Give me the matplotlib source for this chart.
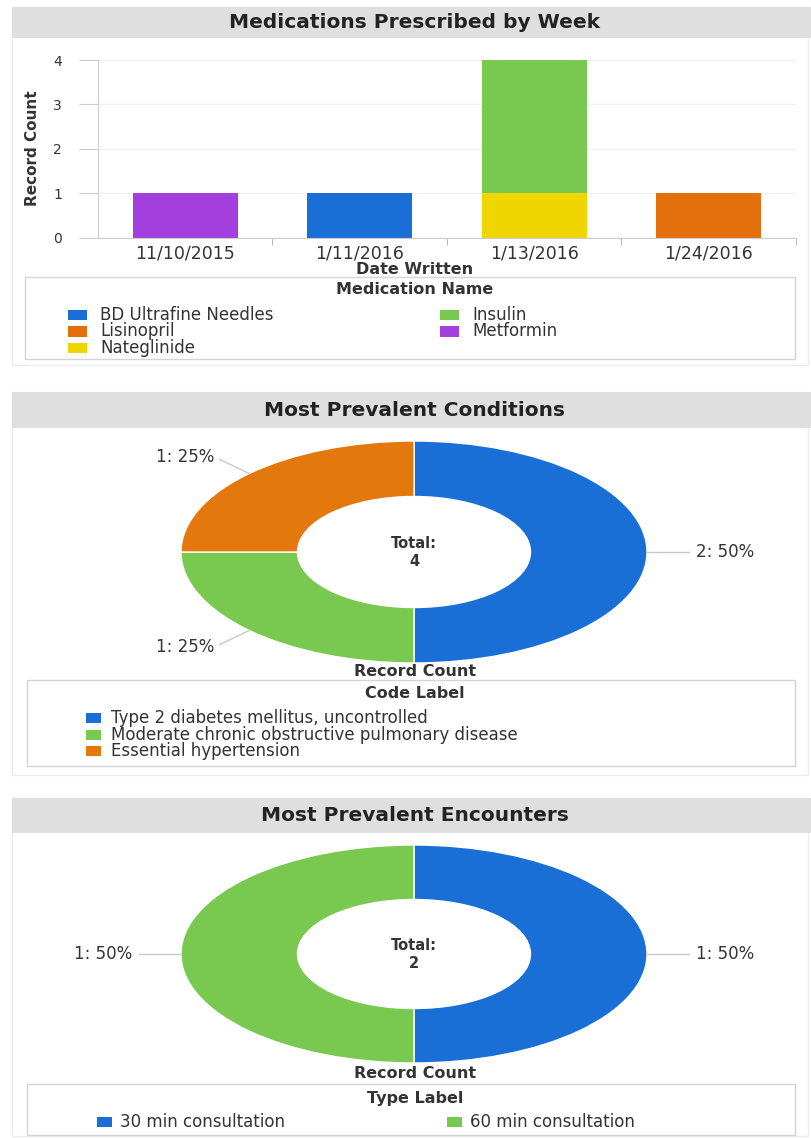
import matplotlib
matplotlib.use("Agg")
import matplotlib.pyplot as plt
from matplotlib.patches import Rectangle
import numpy as np

plt.rcParams['font.family'] = ['DejaVu Sans']

# ---- data ----
dates = ['11/10/2015', '1/11/2016', '1/13/2016', '1/24/2016']
med_names = ['BD Ultrafine Needles', 'Insulin', 'Lisinopril', 'Metformin', 'Nateglinide']
med_counts = {
    'Metformin':            [1, 0, 0, 0],
    'BD Ultrafine Needles': [0, 1, 0, 0],
    'Nateglinide':          [0, 0, 1, 0],
    'Insulin':              [0, 0, 3, 0],
    'Lisinopril':           [0, 0, 0, 1],
}
med_colors = {
    'BD Ultrafine Needles': '#1a6fd6',
    'Insulin': '#79c84f',
    'Lisinopril': '#e3700d',
    'Metformin': '#a33fdc',
    'Nateglinide': '#f0d600',
}

cond_labels = ['Type 2 diabetes mellitus, uncontrolled',
               'Moderate chronic obstructive pulmonary disease',
               'Essential hypertension']
cond_counts = [2, 1, 1]
cond_colors = ['#1a6fd6', '#79c84f', '#e3780d']

enc_labels = ['30 min consultation', '60 min consultation']
enc_counts = [1, 1]
enc_colors = ['#1a6fd6', '#79c84f']

W, H = 812, 1138
fig = plt.figure(figsize=(W / 100, H / 100), dpi=100)
fig.patch.set_facecolor('white')


def px_axes(l, t, w, h):
    return fig.add_axes([l / W, 1 - (t + h) / H, w / W, h / H])


def ftext(x, y, s, **kw):
    kw.setdefault('ha', 'center')
    kw.setdefault('va', 'center')
    fig.text(x / W, 1 - y / H, s, **kw)


def frect(x, y, w, h, **kw):
    fig.patches.append(Rectangle((x / W, 1 - (y + h) / H), w / W, h / H,
                                 transform=fig.transFigure, **kw))


def header(y0, y1, title):
    frect(12, y0, 800, y1 - y0, facecolor='#dfdfdf', edgecolor='none')
    ftext(415, (y0 + y1) / 2, title, fontsize=14.5, fontweight='bold', color='#222222')


def legend_item(x, y, color, label, sw=19, gap=13):
    frect(x, y - 5, sw, 10, facecolor=color, edgecolor='none')
    ftext(x + sw + gap, y, label, ha='left', fontsize=12, color='#333333')


# panel outlines
for y0, y1 in [(7, 365), (392, 775), (798, 1136)]:
    frect(12, y0, 796, y1 - y0, facecolor='none', edgecolor='#ececec', lw=1)

# ---- panel 1: stacked bars ----
header(7, 38, 'Medications Prescribed by Week')
ax = px_axes(98, 60, 698, 178)
x = np.arange(len(dates))
bottom = np.zeros(len(dates))
for name, vals in med_counts.items():
    ax.bar(x, vals, width=0.6, bottom=bottom, color=med_colors[name], zorder=2)
    bottom += np.array(vals)
ax.set_xlim(-0.5, len(dates) - 0.5)
ax.set_ylim(0, 4)
ax.set_yticks(range(5))
ax.set_xticks(x)
ax.set_xticklabels(dates, fontsize=12.5, color='#333333')
ax.set_xticks(np.arange(len(dates)) + 0.5, minor=True)
ax.tick_params(axis='x', which='major', length=0, pad=5)
ax.tick_params(axis='x', which='minor', length=5, color='#aaaaaa')
ax.tick_params(axis='y', length=14, color='#cccccc', pad=12, labelsize=10, labelcolor='#333333')
ax.grid(axis='y', color='#f1f1f1', lw=1, zorder=0)
for s in ['top', 'right']:
    ax.spines[s].set_visible(False)
ax.spines['left'].set_color('#cccccc')
ax.spines['bottom'].set_color('#cccccc')
ftext(33, 148, 'Record Count', rotation=90, fontsize=11, fontweight='bold', color='#333333')
ftext(415, 269, 'Date Written', fontsize=11.5, fontweight='bold', color='#333333')

frect(25, 277, 770, 82, facecolor='none', edgecolor='#d4d4d4', lw=1)
ftext(415, 290, 'Medication Name', fontsize=11.5, fontweight='bold', color='#333333')
col1 = ['BD Ultrafine Needles', 'Lisinopril', 'Nateglinide']
col2 = ['Insulin', 'Metformin']
for i, n in enumerate(col1):
    legend_item(68, 315 + i * 16.5, med_colors[n], n)
for i, n in enumerate(col2):
    legend_item(440, 315 + i * 16.5, med_colors[n], n)


# ---- donut helper ----
def donut(cx, cy, rx, ry, counts, colors):
    a = px_axes(cx - rx, cy - ry, 2 * rx, 2 * ry)
    wedges, _ = a.pie(counts, colors=colors, startangle=90, counterclock=False,
                      radius=1, wedgeprops=dict(width=0.5, edgecolor='white', linewidth=1))
    a.set_aspect('auto')
    a.set_xlim(-1, 1)
    a.set_ylim(-1, 1)
    total = sum(counts)
    for w, c in zip(wedges, counts):
        th = np.deg2rad((w.theta1 + w.theta2) / 2)
        cs, sn = np.cos(th), np.sin(th)
        a.plot([cs, cs * 1.18], [sn, sn * 1.18], color='#c8c8c8', lw=1, clip_on=False)
        a.text(cs * 1.21, sn * 1.21, f'{c}: {c / total:.0%}',
               ha='left' if cs > 0 else 'right', va='center', fontsize=12, color='#333333')
    a.text(0, 0.08, 'Total:', ha='center', va='center', fontsize=10.5, fontweight='bold', color='#333333')
    a.text(0, -0.09, str(total), ha='center', va='center', fontsize=10.5, fontweight='bold', color='#333333')
    return a


# ---- panel 2 ----
header(392, 428, 'Most Prevalent Conditions')
donut(414, 552, 233, 111, cond_counts, cond_colors)
ftext(415, 671, 'Record Count', fontsize=11.5, fontweight='bold', color='#333333')
frect(27, 680, 768, 86, facecolor='none', edgecolor='#d4d4d4', lw=1)
ftext(415, 694, 'Code Label', fontsize=11.5, fontweight='bold', color='#333333')
for i, (lab, col) in enumerate(zip(cond_labels, cond_colors)):
    legend_item(86, 718 + i * 16.5, col, lab, sw=15, gap=10)

# ---- panel 3 ----
header(798, 833, 'Most Prevalent Encounters')
donut(414, 954, 233, 109, enc_counts, enc_colors)
ftext(415, 1073, 'Record Count', fontsize=11.5, fontweight='bold', color='#333333')
frect(27, 1084, 768, 51, facecolor='none', edgecolor='#d4d4d4', lw=1)
ftext(415, 1099, 'Type Label', fontsize=11.5, fontweight='bold', color='#333333')
legend_item(97, 1122, enc_colors[0], enc_labels[0], sw=15, gap=8)
legend_item(447, 1122, enc_colors[1], enc_labels[1], sw=15, gap=8)

fig.savefig('out.png', dpi=100)
